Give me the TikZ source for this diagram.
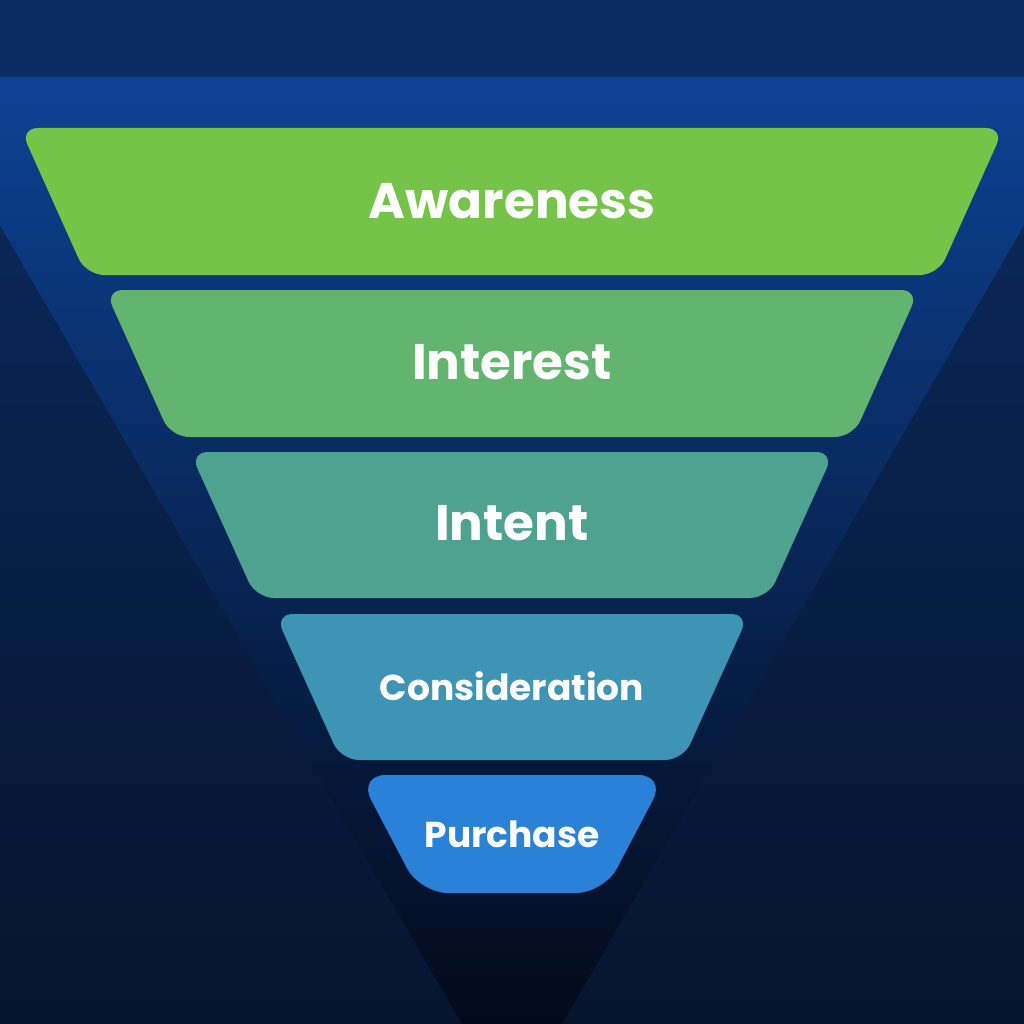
\documentclass[tikz,border=0pt]{standalone}
\usepackage{fontspec}
\setmainfont{Poppins}[UprightFont=* Bold]
\definecolor{bgtop}{RGB}{11,44,98}
\definecolor{bgbot}{RGB}{6,20,46}
\definecolor{band}{RGB}{11,45,99}
\definecolor{tritop}{RGB}{13,66,148}
\definecolor{tribot}{RGB}{3,10,26}
\definecolor{c1}{RGB}{118,195,74}
\definecolor{c2}{RGB}{98,180,110}
\definecolor{c3}{RGB}{79,162,143}
\definecolor{c4}{RGB}{61,148,181}
\definecolor{c5}{RGB}{42,130,216}
\begin{document}
\begin{tikzpicture}[x=1pt,y=-1pt,
  stage/.style={rounded corners=18pt},
  lbl/.style={text=white}]
\useasboundingbox (0,0) rectangle (1024,1024);
\shade[top color=bgtop,bottom color=bgbot] (0,0) rectangle (1024,1024);
\fill[band] (0,0) rectangle (1024,77);
\shade[top color=tritop,bottom color=tribot] (0,77) -- (1024,77) -- (1024,225) -- (562,1024) -- (462,1024) -- (0,225) -- cycle;
\fill[c1,stage] (20,128) -- (1004,128) -- (938,275) -- (86,275) -- cycle;
\fill[c2,stage] (105,290) -- (919,290) -- (853,437) -- (171,437) -- cycle;
\fill[c3,stage] (190,452) -- (834,452) -- (768,598) -- (256,598) -- cycle;
\fill[c4,stage] (275,614) -- (749,614) -- (683,760) -- (341,760) -- cycle;
\fill[c5,rounded corners=28pt] (358,775) -- (666,775) -- (604,893) -- (420,893) -- cycle;
\node[lbl,font=\fontsize{50}{50}\selectfont] (a) at (512,201) {Awareness};
\node[lbl,font=\fontsize{50}{50}\selectfont] (b) at (512,362) {Interest};
\node[lbl,font=\fontsize{50}{50}\selectfont] (c) at (512,523) {Intent};
\node[lbl,font=\fontsize{36}{36}\selectfont] (d) at (512,686) {Consideration};
\node[lbl,font=\fontsize{36}{36}\selectfont] (e) at (512,834) {Purchase};
\end{tikzpicture}
\end{document}
